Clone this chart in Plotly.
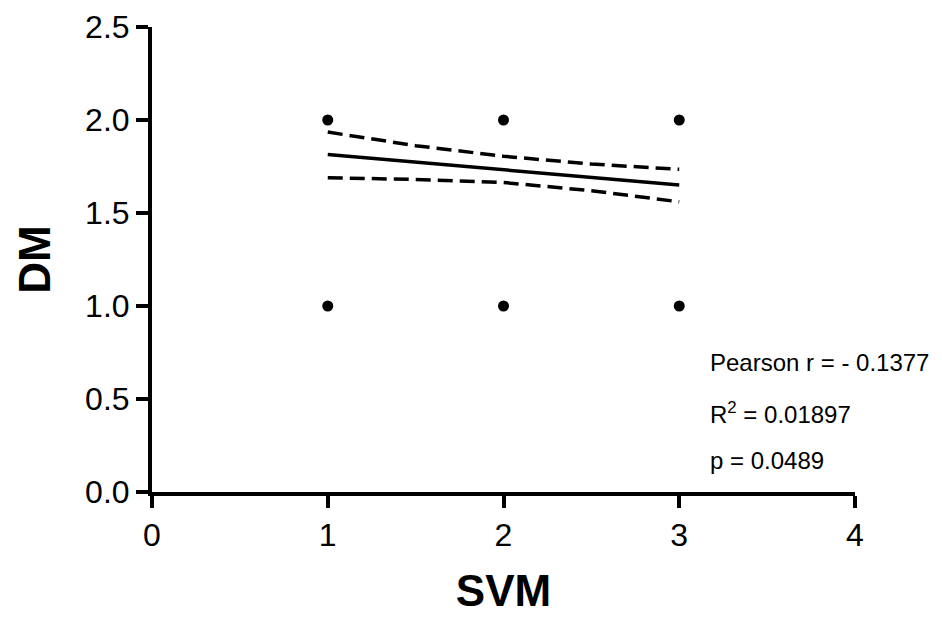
import plotly.graph_objects as go

# Scatter data (overlapping points drawn as single dots)
svm_points = [1, 1, 2, 2, 3, 3]
dm_points = [2.0, 1.0, 2.0, 1.0, 2.0, 1.0]

# Regression line and 95% confidence band
fit_x = [1.0, 1.5, 2.0, 2.5, 3.0]
fit_y = [1.815, 1.774, 1.733, 1.692, 1.650]
ci_upper = [1.935, 1.862, 1.805, 1.763, 1.735]
ci_lower = [1.690, 1.680, 1.664, 1.620, 1.560]

x_ticks = [0, 1, 2, 3, 4]
y_ticks = [0.0, 0.5, 1.0, 1.5, 2.0, 2.5]
y_tick_labels = ["0.0", "0.5", "1.0", "1.5", "2.0", "2.5"]

stats_lines = ["Pearson r = - 0.1377", "R<sup>2</sup> = 0.01897", "p = 0.0489"]
stats_y = [0.694, 0.427, 0.171]

fig = go.Figure()
fig.add_trace(go.Scatter(x=fit_x, y=ci_upper, mode="lines",
                         line=dict(color="black", width=3.5, dash="15px,7px"),
                         hoverinfo="skip", showlegend=False))
fig.add_trace(go.Scatter(x=fit_x, y=ci_lower, mode="lines",
                         line=dict(color="black", width=3.5, dash="15px,7px"),
                         hoverinfo="skip", showlegend=False))
fig.add_trace(go.Scatter(x=fit_x, y=fit_y, mode="lines",
                         line=dict(color="black", width=3.5),
                         showlegend=False))
fig.add_trace(go.Scatter(x=svm_points, y=dm_points, mode="markers",
                         marker=dict(color="black", size=11),
                         cliponaxis=False, showlegend=False))

for txt, yy in zip(stats_lines, stats_y):
    fig.add_annotation(x=3.164, y=yy, xref="x", yref="y", text=txt,
                       showarrow=False, xanchor="left", yanchor="middle",
                       font=dict(family="Liberation Sans, Arial", size=24, color="black"))

fig.update_layout(
    width=942, height=618,
    margin=dict(l=144, r=95, t=19, b=134, autoexpand=False),
    plot_bgcolor="white", paper_bgcolor="white",
    font=dict(family="Liberation Sans, Arial", color="black"),
    xaxis=dict(range=[0, 4], tickvals=x_ticks, ticktext=[str(v) for v in x_ticks],
               showline=True, linecolor="black", linewidth=4,
               ticks="outside", ticklen=12, tickwidth=4, tickcolor="black",
               showgrid=False, zeroline=False, ticklabeloverflow="allow",
               automargin=False,
               tickfont=dict(size=32),
               title=dict(text="<b>SVM</b>", font=dict(size=44), standoff=24)),
    yaxis=dict(range=[0, 2.5], tickvals=y_ticks, ticktext=y_tick_labels,
               showline=True, linecolor="black", linewidth=4,
               ticks="outside", ticklen=12, tickwidth=4, tickcolor="black",
               showgrid=False, zeroline=False, ticklabeloverflow="allow",
               automargin=False,
               tickfont=dict(size=32),
               title=dict(text="<b>DM</b>", font=dict(size=44), standoff=22)),
)

fig.write_html("out.html")
